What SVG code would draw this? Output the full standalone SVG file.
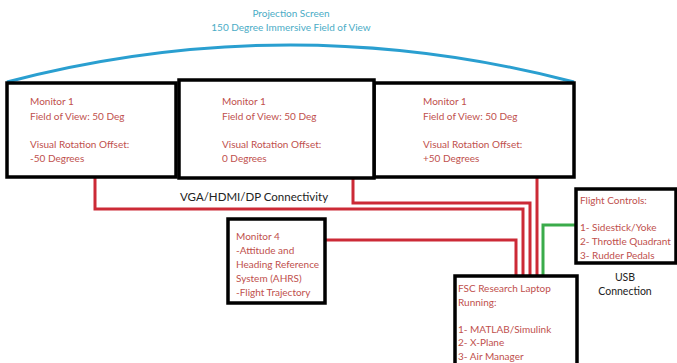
<svg xmlns="http://www.w3.org/2000/svg" width="677" height="363" viewBox="0 0 677 363">
<style>
  .box { fill: #ffffff; stroke: #000000; stroke-width: 3.5; }
  .t { font-family: Lato, "Liberation Sans", sans-serif; font-size: 10px; fill: #c0504d; }
  .k { font-family: Lato, "Liberation Sans", sans-serif; font-size: 10.5px; fill: #222222; }
  .b { font-family: Lato, "Liberation Sans", sans-serif; font-size: 10px; fill: #4bacc6; }
  .red { fill: none; stroke: #cc2a36; stroke-width: 3; }
  .green { fill: none; stroke: #3aab4a; stroke-width: 3; }
</style>
<rect width="677" height="363" fill="#ffffff"/>
<g id="projection-screen">
  <path d="M7,82 Q290,8 574,82" fill="none" stroke="#2a9fd0" stroke-width="3"/>
  <text class="b" x="291" y="17" text-anchor="middle">Projection Screen</text>
  <text class="b" x="291" y="31" text-anchor="middle">150 Degree Immersive Field of View</text>
</g>
<g id="connectors">
  <polyline class="red" points="95,177 95,209 523,209 523,276"/>
  <polyline class="red" points="353,178 353,203 530,203 530,276"/>
  <polyline class="red" points="325,240 516,240 516,276"/>
  <polyline class="red" points="537,177 537,276"/>
  <polyline class="green" points="543,276 543,225 577,225"/>
  <text class="k" x="180" y="201" style="font-size:11.5px">VGA/HDMI/DP Connectivity</text>
  <text class="k" x="625" y="281" text-anchor="middle">USB</text>
  <text class="k" x="625" y="295" text-anchor="middle">Connection</text>
</g>
<g id="monitor-left">
  <rect class="box" x="7" y="83" width="169" height="94"/>
  <text class="t" x="30" y="105">Monitor 1</text>
  <text class="t" x="30" y="120">Field of View: 50 Deg</text>
  <text class="t" x="30" y="148">Visual Rotation Offset:</text>
  <text class="t" x="30" y="162">-50 Degrees</text>
</g>
<g id="monitor-right">
  <rect class="box" x="374" y="83" width="200" height="94"/>
  <text class="t" x="423" y="105">Monitor 1</text>
  <text class="t" x="423" y="120">Field of View: 50 Deg</text>
  <text class="t" x="423" y="148">Visual Rotation Offset:</text>
  <text class="t" x="423" y="162">+50 Degrees</text>
</g>
<g id="monitor-center">
  <rect class="box" x="179" y="80" width="195" height="98"/>
  <text class="t" x="222" y="105">Monitor 1</text>
  <text class="t" x="222" y="120">Field of View: 50 Deg</text>
  <text class="t" x="222" y="148">Visual Rotation Offset:</text>
  <text class="t" x="222" y="162">0 Degrees</text>
</g>
<g id="monitor-4">
  <rect class="box" x="228" y="219" width="97" height="84"/>
  <text class="t" x="236" y="240">Monitor 4</text>
  <text class="t" x="236" y="254">-Attitude and</text>
  <text class="t" x="236" y="268">Heading Reference</text>
  <text class="t" x="236" y="282">System (AHRS)</text>
  <text class="t" x="236" y="296">-Flight Trajectory</text>
</g>
<g id="flight-controls">
  <rect class="box" x="576" y="189" width="100" height="74"/>
  <text class="t" x="580" y="204">Flight Controls:</text>
  <text class="t" x="580" y="231">1- Sidestick/Yoke</text>
  <text class="t" x="580" y="245">2- Throttle Quadrant</text>
  <text class="t" x="580" y="259">3- Rudder Pedals</text>
</g>
<g id="laptop">
  <rect class="box" x="455" y="276" width="122" height="95"/>
  <text class="t" x="458" y="292">FSC Research Laptop</text>
  <text class="t" x="458" y="306">Running:</text>
  <text class="t" x="458" y="333">1- MATLAB/Simulink</text>
  <text class="t" x="458" y="346">2- X-Plane</text>
  <text class="t" x="458" y="360">3- Air Manager</text>
</g>
</svg>
